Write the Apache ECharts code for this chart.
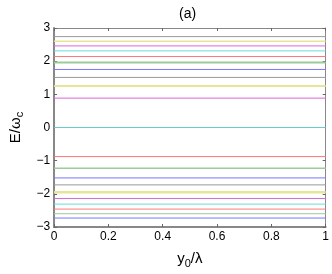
<!DOCTYPE html>
<html><head><meta charset="utf-8">
<script src="https://cdn.jsdelivr.net/npm/echarts@6/dist/echarts.min.js"></script>
<style>html,body{margin:0;padding:0;background:#fff}#c{width:332px;height:274px}</style>
</head><body><div id="c"></div>
<script>
// Energy levels E/ω_c (flat in y0/λ)
const levels = [2.74, 2.60, 2.46, 2.31, 2.14, 1.96, 1.75, 1.51, 1.25, 0.886, 0,
  -0.877, -1.23, -1.52, -1.73, -1.95, -2.14, -2.31, -2.46, -2.60, -2.73];
const levelColors = ['#999999', '#e6e69a', '#dd66dd', '#66dddd', '#ff7777', '#99cc99', '#7777ff', '#999999', '#e6e69a', '#dd66dd', '#66cccc',
  '#ff7777', '#99cc99', '#7777ff', '#999999', '#e6e69a', '#dd66dd', '#66dddd', '#ff7777', '#99cc99', '#7777ff'];
const levelWidths = [1,1.5,1,1,1,2,1,1,2,1,1, 1,1.5,1,1,2.5,1,1,1,1,1];
const xRange = [0, 1];
const xTicks = ['0', '0.2', '0.4', '0.6', '0.8', '1'];
const yTicks = ['−3', '−2', '−1', '0', '1', '2', '3'];

const chart = echarts.init(document.getElementById('c'));
const font = 'Liberation Sans, Arial, sans-serif';
const series = levels.map((v, i) => ({
  type: 'line', showSymbol: false, silent: true, animation: false,
  data: [[xRange[0], v], [xRange[1], v]],
  lineStyle: { color: levelColors[i], width: levelWidths[i] }
}));
chart.setOption({
  animation: false,
  title: { text: '(a)', left: 174, top: 2, textStyle: { fontFamily: font, fontSize: 14, fontWeight: 'normal', color: '#000' } },
  grid: { left: 47, right: 6, top: 28, bottom: 35 },
  xAxis: [{
    type: 'value', min: 0, max: 1, interval: 0.2,
    axisLine: { onZero: false, lineStyle: { color: '#888', width: 2 } },
    axisTick: { inside: true, length: 3, lineStyle: { color: '#666' } },
    splitLine: { show: false },
    axisLabel: { color: '#000', fontFamily: font, fontSize: 12, margin: 4,
      formatter: v => xTicks[Math.round(v / 0.2)] },
    name: '{a|y}{b|0}{a|/λ}', nameLocation: 'middle', nameGap: 22,
    nameTextStyle: { rich: { a: { fontFamily: font, fontSize: 15, color: '#000' }, b: { fontFamily: font, fontSize: 11, color: '#000', padding: [9, 0, 0, 0] } } }
  }, {
    type: 'value', position: 'top', min: 0, max: 1, interval: 0.2,
    axisLine: { show: true, onZero: false, lineStyle: { color: '#888', width: 1 } },
    axisTick: { inside: true, length: 3, lineStyle: { color: '#666' } },
    axisLabel: { show: false }, splitLine: { show: false }
  }],
  yAxis: [{
    type: 'value', min: -3, max: 3, interval: 1,
    axisLine: { show: true, onZero: false, lineStyle: { color: '#888', width: 2 } },
    axisTick: { show: true, inside: true, length: 3, lineStyle: { color: '#666' } },
    splitLine: { show: false },
    axisLabel: { color: '#000', fontFamily: font, fontSize: 12, margin: 4,
      formatter: v => yTicks[Math.round(v) + 3] },
    name: '{a|E/ω}{b|c}', nameLocation: 'middle', nameGap: 26, nameRotate: 90,
    nameTextStyle: { rich: { a: { fontFamily: font, fontSize: 15, color: '#000' }, b: { fontFamily: font, fontSize: 11, color: '#000', padding: [9, 0, 0, 0] } } }
  }, {
    type: 'value', position: 'right', min: -3, max: 3, interval: 1,
    axisLine: { show: true, onZero: false, lineStyle: { color: '#888', width: 1 } },
    axisTick: { show: true, inside: true, length: 3, lineStyle: { color: '#666' } },
    axisLabel: { show: false }, splitLine: { show: false }
  }],
  series: series
});
</script></body></html>
